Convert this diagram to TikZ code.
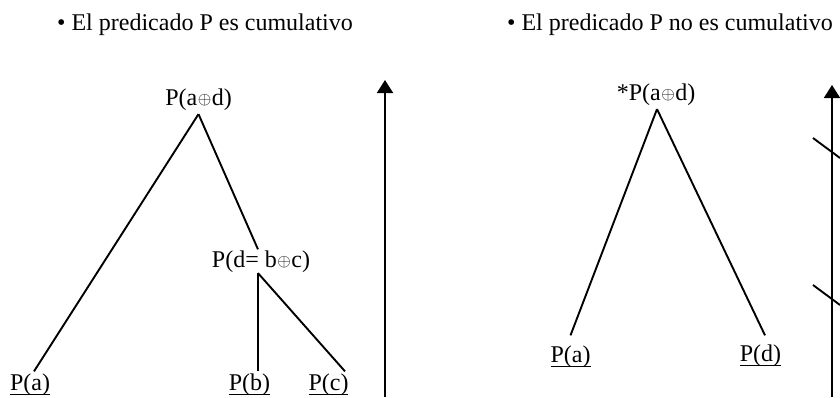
\documentclass[tikz,border=0pt]{standalone}
\usepackage{fontspec}
\setmainfont{Liberation Serif}
\usetikzlibrary{arrows.meta}
\newcommand{\oplusx}{\kern0.5pt\raisebox{1pt}{\resizebox{13.5pt}{!}{$\oplus$}}\kern0.5pt}
\newsavebox{\ulbox}
\newcommand{\ulx}[1]{\sbox{\ulbox}{#1}\leavevmode\rlap{\usebox{\ulbox}}\rule[-5pt]{\wd\ulbox}{1.4pt}}
\begin{document}
\begin{tikzpicture}[x=1pt,y=-1pt,
  txt/.style={font=\fontsize{24}{28}\selectfont, inner sep=0pt, anchor=base},
  ln/.style={line width=1.9pt},
  axisline/.style={line width=1.9pt, -{Triangle[width=16pt,length=13pt]}}]
\useasboundingbox (0,0) rectangle (840,397);
% titles
\node[txt] (t1) at (205,30) {• El predicado P es cumulativo};
\node[txt] (t2) at (670,30) {• El predicado P no es cumulativo};
% left tree
\node[txt, outer sep=4pt] (lad) at (198.5,105) {P(a\oplusx d)};
\node[txt, outer sep=1pt] (ld) at (261,267) {P(d= b\oplusx c)};
\node[txt, outer sep=2pt] (la) at (30,390) {\ulx{P(a)}};
\node[txt, outer sep=2pt] (lb) at (249.5,390) {\ulx{P(b)}};
\node[txt, outer sep=2pt] (lc) at (328.5,390) {\ulx{P(c)}};
\draw[ln] (lad.south) -- ([xshift=4pt]la.north);
\draw[ln] (lad.south) -- ([xshift=-3pt]ld.north);
\draw[ln] ([xshift=-3pt]ld.south) -- ([xshift=-3pt]ld.south |- lb.north);
\draw[ln] ([xshift=-3pt]ld.south) -- ([xshift=16.5pt]lc.north);
% left axis
\coordinate (b1) at (385,397);
\coordinate (e1) at (385,80);
\draw[axisline] (b1) -- (e1);
% right tree
\node[txt, outer sep=4pt] (rad) at (656,100) {*P(a\oplusx d)};
\node[txt, outer sep=10pt] (ra) at (570.5,362) {\ulx{P(a)}};
\node[txt, outer sep=9pt] (rd) at (760.5,361) {\ulx{P(d)}};
\draw[ln] ([xshift=1pt]rad.south) -- (ra.north);
\draw[ln] ([xshift=1pt]rad.south) -- ([xshift=4.5pt]rd.north);
% right axis
\coordinate (b2) at (832,397);
\coordinate (e2) at (832,85);
\draw[axisline] (b2) -- (e2);
\coordinate (s1a) at (813,138);
\coordinate (s1b) at (840,158);
\coordinate (s2a) at (813,285);
\coordinate (s2b) at (840,305);
\draw[ln] (s1a) -- (s1b);
\draw[ln] (s2a) -- (s2b);
\end{tikzpicture}
\end{document}
